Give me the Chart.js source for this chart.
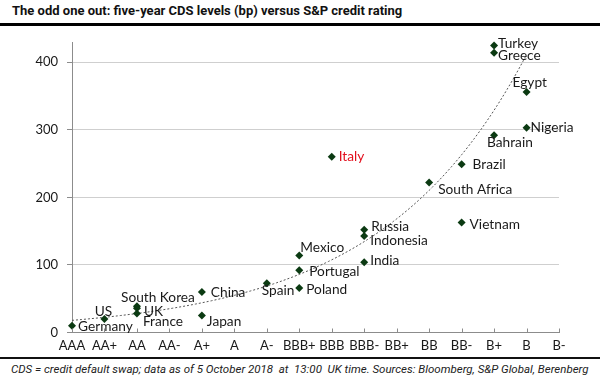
<!DOCTYPE html>
<html>
<head>
<meta charset="utf-8">
<script src="https://cdn.jsdelivr.net/npm/chart.js@4.4.1/dist/chart.umd.min.js"></script>
<style>
  html, body { margin: 0; padding: 0; background: #fff; }
  #page { position: relative; width: 600px; height: 379px; overflow: hidden; background: #fff; }
  #title { position: absolute; left: 12px; top: 3px; font: bold 13px Roboto, "Liberation Sans", sans-serif; color: #111; white-space: nowrap; }
  #rule1 { position: absolute; left: 0; top: 23px; width: 600px; height: 3px; background: #000; }
  #wrap { position: absolute; left: 0; top: 30px; width: 600px; height: 326px; }
  #rule2 { position: absolute; left: 0; top: 357px; width: 600px; height: 2px; background: #111; }
  #foot { position: absolute; left: 11px; top: 362px; font: italic 11.5px Roboto, "Liberation Sans", sans-serif; color: #222; white-space: nowrap; }
</style>
</head>
<body>
<div id="page">
  <div id="title">The odd one out: five-year CDS levels (bp) versus S&amp;P credit rating</div>
  <div id="rule1"></div>
  <div id="wrap"><canvas id="c" width="600" height="326"></canvas></div>
  <div id="rule2"></div>
  <div id="foot">CDS = credit default swap; data as of 5 October 2018&nbsp; at&nbsp; 13:00&nbsp; UK time. Sources: Bloomberg, S&amp;P Global, Berenberg</div>
</div>
<script>
// ---- data ----
const ratings = ["AAA","AA+","AA","AA-","A+","A","A-","BBB+","BBB","BBB-","BB+","BB","BB-","B+","B","B-"];
const countries = ["Germany","US","South Korea","UK","France","Japan","China","Spain","Mexico","Portugal","Poland","Italy","Russia","Indonesia","India","South Africa","Brazil","Vietnam","Turkey","Greece","Bahrain","Egypt","Nigeria"];
const countryRatings = ["AAA","AA+","AA","AA","AA","A+","A+","A-","BBB+","BBB+","BBB+","BBB","BBB-","BBB-","BBB-","BB","BB-","BB-","B+","B+","B+","B","B"];
const cdsBp = [10,20,39,36,28,25,60,73,114,92,66,260,152,143,104,222,249,163,425,414,292,356,303];
const yTicks = [0,100,200,300,400];

// ---- label placement (layout only) ----
const labelPlace = {
  "Germany":[6,1,"left"], "US":[-1,-7,"center"], "South Korea":[21,-9,"center"], "UK":[7,3,"left"],
  "France":[6,8,"left"], "Japan":[5,6,"left"], "China":[9,1,"left"], "Spain":[-5,7,"left"],
  "Mexico":[1,-8,"left"], "Portugal":[10,1,"left"], "Poland":[7,2,"left"], "Italy":[7,0,"left"],
  "Russia":[7,-3,"left"], "Indonesia":[6,5,"left"], "India":[6,-2,"left"], "South Africa":[9,7,"left"],
  "Brazil":[11,0,"left"], "Vietnam":[8,2,"left"], "Turkey":[4,-2,"left"], "Greece":[4,3,"left"],
  "Bahrain":[-7,7,"left"], "Egypt":[-14,-9,"left"], "Nigeria":[4,0,"left"]
};

const points = countries.map((c, i) => ({ x: ratings.indexOf(countryRatings[i]), y: cdsBp[i], name: c }));

// exponential least-squares trendline (fit on ln y)
const xs = points.map(p => p.x), ls = points.map(p => Math.log(p.y));
const n = xs.length;
const mx = xs.reduce((a,b)=>a+b,0)/n, ml = ls.reduce((a,b)=>a+b,0)/n;
let sxy = 0, sxx = 0;
for (let i = 0; i < n; i++) { sxy += (xs[i]-mx)*(ls[i]-ml); sxx += (xs[i]-mx)*(xs[i]-mx); }
const bFit = sxy/sxx, aFit = Math.exp(ml - bFit*mx);
const xMinFit = Math.min(...xs), xMaxFit = Math.max(...xs);
const trend = [];
for (let k = 0; k <= 140; k++) { const x = xMinFit + (xMaxFit - xMinFit) * k / 140; trend.push({ x, y: aFit * Math.exp(bFit * x) }); }

const FONT = "Lato, 'Open Sans', sans-serif";

const labelPlugin = {
  id: 'labels',
  afterDatasetsDraw(chart) {
    const ctx = chart.ctx;
    const meta = chart.getDatasetMeta(1);
    ctx.save();
    ctx.font = "13.7px " + FONT;
    ctx.textBaseline = 'middle';
    meta.data.forEach((el, i) => {
      const name = points[i].name;
      const p = labelPlace[name];
      ctx.fillStyle = name === 'Italy' ? '#e2101e' : '#1a1a1a';
      ctx.textAlign = p[2];
      ctx.fillText(name, el.x + p[0], el.y + p[1]);
    });
    ctx.restore();
  }
};

const xTickPlugin = {
  id: 'xticks',
  afterDraw(chart) {
    const ctx = chart.ctx, xs = chart.scales.x, bottom = chart.chartArea.bottom;
    ctx.save();
    ctx.strokeStyle = '#8c8c8c';
    ctx.lineWidth = 1;
    ctx.beginPath();
    for (let i = 0; i < ratings.length; i++) {
      const px = Math.round(xs.getPixelForValue(i)) + 0.5;
      ctx.moveTo(px, bottom);
      ctx.lineTo(px, bottom - 4);
    }
    ctx.stroke();
    ctx.restore();
  }
};

new Chart(document.getElementById('c'), {
  data: {
    datasets: [
      { type: 'line', data: trend, borderColor: '#555', borderWidth: 1, borderDash: [2,2], pointRadius: 0, fill: false, tension: 0, order: 2 },
      { type: 'scatter', data: points, pointStyle: 'rectRot', pointRadius: 4, pointHoverRadius: 4, clip: false,
        backgroundColor: '#0b3a12', borderColor: '#0b3a12', borderWidth: 0, order: 1 }
    ]
  },
  options: {
    responsive: false,
    devicePixelRatio: 1,
    animation: false,
    layout: { padding: { top: 12, right: 41, left: 0, bottom: 0 } },
    plugins: { legend: { display: false }, tooltip: { enabled: false } },
    scales: {
      x: {
        type: 'linear', min: 0, max: ratings.length - 1,
        afterFit(s) { s.height = 23.5; s.paddingLeft = 0; s.paddingRight = 0; },
        afterBuildTicks(s) { s.ticks = ratings.map((r, i) => ({ value: i })); },
        ticks: { autoSkip: false, maxRotation: 0, padding: 6, color: '#1a1a1a', font: { family: FONT, size: 13 },
                 callback: v => ratings[v] },
        grid: { drawOnChartArea: false, drawTicks: false },
        border: { color: '#8c8c8c', width: 1 }
      },
      y: {
        min: 0, max: 430,
        afterFit(s) { s.width = 72; s.paddingTop = 0; s.paddingBottom = 0; },
        afterBuildTicks(s) { s.ticks = yTicks.map(v => ({ value: v })); },
        ticks: { color: '#1a1a1a', padding: 9, font: { family: FONT, size: 13 } },
        grid: { color: '#cfcfcf', tickColor: '#8c8c8c', tickLength: 5, lineWidth: 1 },
        border: { color: '#8c8c8c', width: 1 }
      }
    }
  },
  plugins: [labelPlugin, xTickPlugin]
});
</script>
</body>
</html>
